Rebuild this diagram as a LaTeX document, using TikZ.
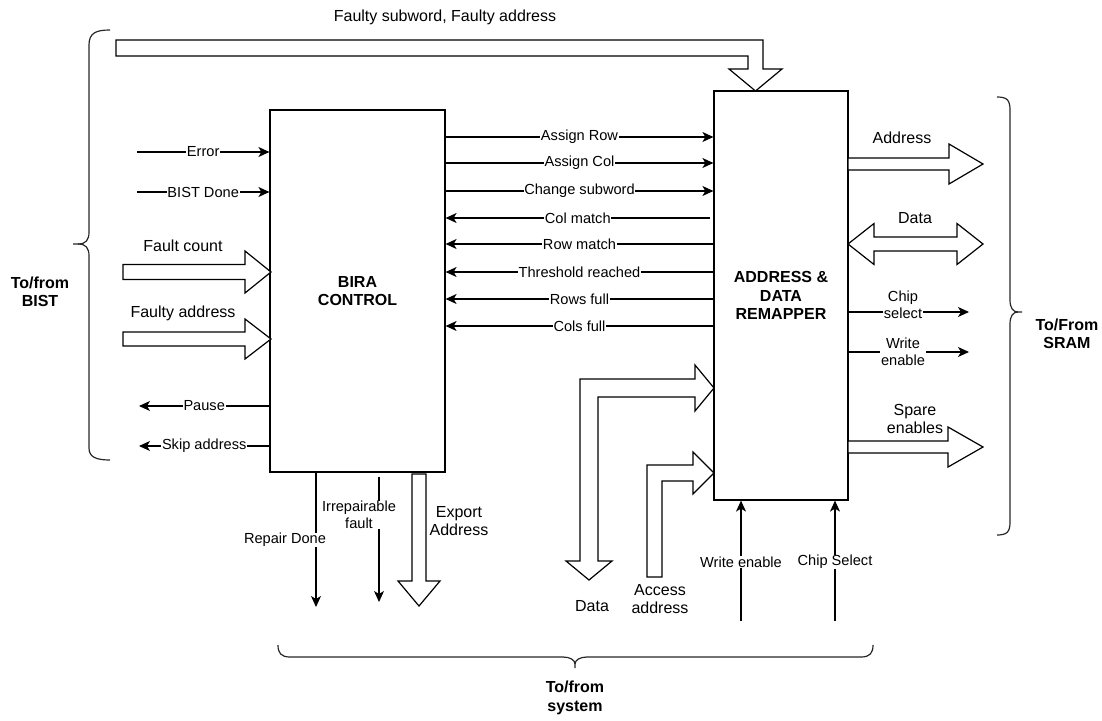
\documentclass[tikz,border=0pt]{standalone}
\usepackage{fontspec}
\setmainfont{Liberation Sans}
\usetikzlibrary{arrows.meta,calc}
\begin{document}
\begin{tikzpicture}[x=1pt,y=-1pt,
  line width=1.2pt,
  blk/.style={draw, rectangle, line width=1.2pt, align=center, font=\bfseries\fontsize{16}{18.5}\selectfont, inner sep=0pt},
  sig/.style={draw, -{Stealth[length=11pt,width=10pt,inset=3pt]}},
  lbl/.style={fill=white, inner sep=0.6pt, font=\fontsize{14.6}{17}\selectfont, align=center},
  big/.style={inner sep=0pt, font=\fontsize{16}{18.5}\selectfont, align=center},
  side/.style={inner sep=0pt, font=\bfseries\fontsize{16}{18.5}\selectfont, align=center},
  fat/.style={draw, fill=white, line join=miter},
  brace/.style={draw, line width=1.2pt, black!85}
]
\useasboundingbox (0,0) rectangle (1102,720);

% blocks
\node[blk, minimum width=175pt, minimum height=362pt] (bira) at (357.5,291) {BIRA\\CONTROL};
\node[blk, minimum width=134pt, minimum height=409pt] (remap) at (781,295.5) {ADDRESS \&\\DATA\\REMAPPER};

% top fat arrow
\draw[fat] (116,40) -- (763,40) -- (763,69) -- (782,69) -- (755.5,91) -- (729,69) -- (748,69) -- (748,56) -- (116,56) -- cycle;
\node[big] (ttop) at (445,17) {Faulty subword, Faulty address};

% left thin signals
\coordinate (sErr) at (137,152);
\draw[sig] (sErr) -- (sErr -| bira.west) node[midway,lbl] (lErr) {Error};
\coordinate (sBD) at (137,192);
\draw[sig] (sBD) -- (sBD -| bira.west) node[midway,lbl] (lBD) {BIST Done};
\coordinate (sPa) at (139,406);
\draw[sig] (sPa -| bira.west) -- (sPa) node[midway,lbl] (lPa) {Pause};
\coordinate (sSk) at (139,446);
\draw[sig] (sSk -| bira.west) -- (sSk) node[midway,lbl] (lSk) {Skip address};

% left fat arrows
\draw[fat] (123,264.5) -- (245,264.5) -- (245,251) -- (271,272) -- (245,293) -- (245,279.5) -- (123,279.5) -- cycle;
\node[big] (lFC) at (183,246) {Fault count};
\draw[fat] (123,332) -- (245,332) -- (245,319) -- (271,339) -- (245,359) -- (245,346) -- (123,346) -- cycle;
\node[big] (lFA) at (183,313) {Faulty address};

% signals between blocks
\foreach \yy/\tt in {137/Assign Row,163/Assign Col,191/Change subword}{
  \coordinate (tmp) at (0,\yy);
  \draw[sig] (tmp -| bira.east) -- (tmp -| remap.west) node[midway,lbl] {\tt};
}
\coordinate (sCM) at (710,218);
\draw[sig] (sCM) -- (sCM -| bira.east) node[midway,lbl] (lCM) {Col match};
\foreach \yy/\tt in {244/Row match,272/Threshold reached,299/Rows full,326/Cols full}{
  \coordinate (tmp) at (0,\yy);
  \draw[sig] (tmp -| remap.west) -- (tmp -| bira.east) node[midway,lbl] {\tt};
}

% right side
\draw[fat] (848,158) -- (949,158) -- (949,144) -- (983,164) -- (949,184) -- (949,170) -- (848,170) -- cycle;
\node[big] (lAd) at (902,138) {Address};
\draw[fat] (848,244) -- (874,223.5) -- (874,237) -- (957,237) -- (957,223.5) -- (983,244) -- (957,264.5) -- (957,251) -- (874,251) -- (874,264.5) -- cycle;
\node[big] (lDa) at (915,218) {Data};
\coordinate (sCS) at (969,312);
\draw[sig] (sCS -| remap.east) -- (sCS);
\node[lbl] (lCS) at (903,305) {Chip\\select};
\coordinate (sWE) at (969,352);
\draw[sig] (sWE -| remap.east) -- (sWE);
\node[lbl] (lWE) at (903,352) {Write\\enable};
\draw[fat] (848,441) -- (948,441) -- (948,427) -- (983,447) -- (948,467) -- (948,453) -- (848,453) -- cycle;
\node[big] (lSE) at (915,419) {Spare\\enables};

% bottom of BIRA
\coordinate (sRD) at (316,607);
\draw[sig] (sRD |- bira.south) -- (sRD);
\node[lbl] (lRD) at (285,540) {Repair Done};
\draw[sig] (379,477) -- (379,602);
\node[lbl] (lIF) at (359,515) {Irrepairable\\fault};
\draw[fat] (412,474) -- (426,474) -- (426,581) -- (440,581) -- (419,606) -- (398,581) -- (412,581) -- cycle;
\node[big] (lEA) at (459,521) {Export\\Address};

% bent arrows into remapper
\draw[fat] (714,388) -- (695,365) -- (695,379) -- (580,379) -- (580,561) -- (566,561) -- (589,580) -- (612,561) -- (598,561) -- (598,397) -- (695,397) -- (695,411) -- cycle;
\node[big] (lDb) at (592,606) {Data};
\draw[fat] (714,473) -- (693,452) -- (693,465) -- (647,465) -- (647,577) -- (662,577) -- (662,481) -- (693,481) -- (693,494) -- cycle;
\node[big] (lAA) at (660,599) {Access\\address};

% bottom inputs of remapper
\coordinate (sWb) at (741,621);
\draw[sig] (sWb) -- (sWb |- remap.south);
\node[lbl] (lWb) at (741,562) {Write enable};
\coordinate (sCb) at (835,621);
\draw[sig] (sCb) -- (sCb |- remap.south);
\node[lbl] (lCb) at (835,562) {Chip Select};

% braces
\draw[brace] (110,30) .. controls (96,30) and (89,33) .. (89,45) -- (89,232)
  .. controls (89,240) and (86,244) .. (78,244) -- (73,244);
\draw[brace] (78,244) .. controls (86,244) and (89,248) .. (89,256) -- (89,448)
  .. controls (89,457) and (96,460) .. (110,460);
\node[side] (lBIST) at (40,292) {To/from\\BIST};

\draw[brace] (997,97) .. controls (1007,97) and (1010,100) .. (1010,110) -- (1010,300)
  .. controls (1010,308) and (1013,312) .. (1018,312) -- (1022,312);
\draw[brace] (1018,312) .. controls (1013,312) and (1010,316) .. (1010,324) -- (1010,522)
  .. controls (1010,532) and (1007,535) .. (997,535);
\node[side] (lSRAM) at (1067,334) {To/From\\SRAM};

\draw[brace] (278,645) .. controls (278,653) and (281,657) .. (290,657) -- (563,657)
  .. controls (570,657) and (575,660) .. (575,664) -- (575,668);
\draw[brace] (575,664) .. controls (575,660) and (580,657) .. (587,657) -- (861,657)
  .. controls (870,657) and (873,653) .. (873,645);
\node[side] (lSys) at (575,698) {To/from\\system};

\end{tikzpicture}
\end{document}
